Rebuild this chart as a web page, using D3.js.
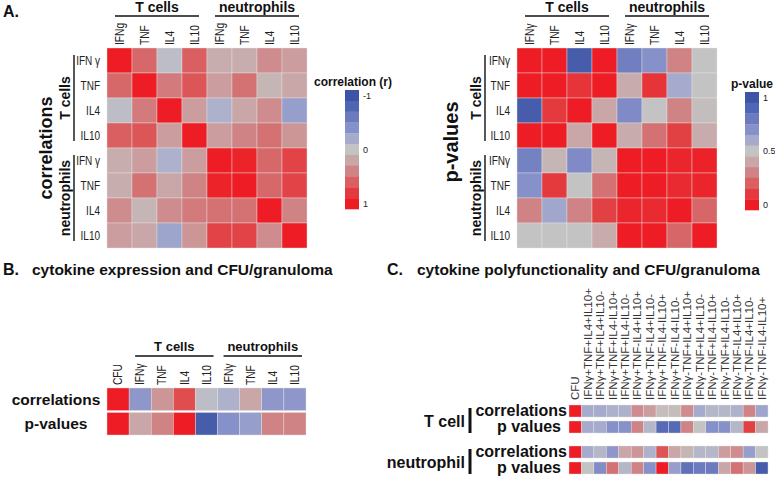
<!DOCTYPE html>
<html><head><meta charset="utf-8">
<script src="https://cdn.jsdelivr.net/npm/d3@7"></script>
<style>
body{margin:0;background:#fff;}
text{font-family:"Liberation Sans",Arial,Helvetica,sans-serif;}
</style></head>
<body><svg id="chart" width="775" height="480"></svg>
<script>
// ---------- DATA ----------
const corrRowLabels = ["IFN γ","TNF","IL4","IL10","IFN γ","TNF","IL4","IL10"];
const pRowLabels = ["IFNγ","TNF","IL4","IL10","IFNγ","TNF","IL4","IL10"];
const corrColLabels = ["IFNg","TNF","IL4","IL10","IFNg","TNF","IL4","IL10"];
const pColLabels = ["IFNγ","TNF","IL4","IL10","IFNγ","TNF","IL4","IL10"];
const groupLabels = ["T cells","neutrophils"];

const corrMatrix = [
  [1.00, 0.55,-0.05, 0.60, 0.15, 0.15, 0.35, 0.25],
  [0.55, 1.00, 0.45, 0.65, 0.25, 0.50, 0.10, 0.20],
  [-0.05,0.45, 1.00, 0.25,-0.15, 0.20, 0.35,-0.30],
  [0.60, 0.65, 0.25, 1.00, 0.25, 0.40, 0.50, 0.30],
  [0.15, 0.25,-0.15, 0.25, 1.00, 0.95, 0.55, 0.75],
  [0.15, 0.50, 0.20, 0.40, 0.95, 1.00, 0.55, 0.75],
  [0.35, 0.10, 0.35, 0.45, 0.50, 0.50, 1.00, 0.40],
  [0.25, 0.20,-0.25, 0.30, 0.75, 0.75, 0.35, 1.00]
];
const pMatrix = [
  [0.00, 0.00, 0.95, 0.00, 0.78, 0.70, 0.30, 0.50],
  [0.00, 0.00, 0.08, 0.00, 0.42, 0.08, 0.60, 0.50],
  [0.95, 0.10, 0.00, 0.40, 0.73, 0.50, 0.30, 0.48],
  [0.00, 0.00, 0.40, 0.00, 0.42, 0.25, 0.12, 0.42],
  [0.77, 0.45, 0.73, 0.45, 0.00, 0.00, 0.03, 0.02],
  [0.70, 0.10, 0.50, 0.25, 0.00, 0.00, 0.05, 0.03],
  [0.30, 0.62, 0.30, 0.12, 0.03, 0.05, 0.00, 0.22],
  [0.50, 0.50, 0.50, 0.42, 0.00, 0.00, 0.22, 0.00]
];

const bColumns = ["CFU","IFNγ","TNF","IL4","IL10","IFNγ","TNF","IL4","IL10"];
const bRowLabels = ["correlations","p-values"];
const bCorr = [1.00,-0.35, 0.30, 0.70,-0.05,-0.15, 0.20,-0.35,-0.35];
const bP    = [0.00, 0.40, 0.30, 0.00, 0.95, 0.70, 0.65, 0.30, 0.30];

const cColumns = ["CFU",
  "IFNγ+TNF+IL4+IL10+","IFNγ+TNF+IL4+IL10-","IFNγ+TNF+IL4-IL10+","IFNγ+TNF+IL4-IL10-",
  "IFNγ+TNF-IL4+IL10+","IFNγ+TNF-IL4+IL10-","IFNγ+TNF-IL4-IL10+","IFNγ+TNF-IL4-IL10-",
  "IFNγ-TNF+IL4+IL10+","IFNγ-TNF+IL4+IL10-","IFNγ-TNF+IL4-IL10+","IFNγ-TNF+IL4-IL10-",
  "IFNγ-TNF-IL4+IL10+","IFNγ-TNF-IL4+IL10-","IFNγ-TNF-IL4-IL10+"];
const cGroups = ["T cell","neutrophil"];
const cRowLabels = ["correlations","p values"];
const cTCorr = [1.00,-0.20,-0.20,-0.15,-0.15, 0.35, 0.25, 0.05, 0.05, 0.35,-0.20,-0.10,-0.10,-0.15, 0.40,-0.25];
const cTP    = [0.00, 0.60, 0.60, 0.70, 0.70, 0.30, 0.55, 0.88, 0.88, 0.30, 0.50, 0.70, 0.70, 0.55, 0.12, 0.40];
const cNCorr = [1.00,-0.20,-0.10,-0.35, 0.20, 0.30,-0.15, 0.65, 0.20, 0.10,-0.10,-0.10, 0.25, 0.35,-0.30, 0.00];
const cNP    = [0.00, 0.50, 0.72, 0.25, 0.55, 0.30, 0.70, 0.00, 0.65, 0.85, 0.80, 0.80, 0.40, 0.25, 0.35, 0.95];

const corrTicks = [-1, 0, 1];
const pTicks = [1, 0.5, 0];
// swatch colours from red (t=0) to blue (t=1)
const rampColors = ["#ee1c24","#e43a3d","#d95f61","#cf8385","#c9a6a7","#c3c3c3","#a6abcd","#8791c9","#6c7bbf","#5166b2","#3c53a6"];

// ---------- SCALES ----------
const ramp = d3.scaleLinear().domain(d3.range(11).map(i => i/10)).range(rampColors).clamp(true);
const corrColor = r => ramp((1 - r) / 2);
const pColor = p => ramp(p);

const svg = d3.select("#chart");
const idx = n => d3.range(n);

function styleColLabels(sel, size) {
  sel.select(".domain").remove();
  sel.selectAll("text").attr("transform", "rotate(-90) scale(0.85,1)").attr("x", 0).attr("y", 0)
    .attr("dy", "0.35em").attr("text-anchor", "start")
    .style("font-size", size + "px").attr("fill", "#222");
}

function drawMatrix(x0, x1, y0, y1, matrix, colorFn, colLabels, rowLabels) {
  const n = colLabels.length;
  const x = d3.scaleBand().domain(idx(n)).range([x0, x1]);
  const y = d3.scaleBand().domain(idx(rowLabels.length)).range([y0, y1]);
  const g = svg.append("g");
  matrix.forEach((row, i) => {
    g.selectAll(null).data(row).join("rect")
      .attr("x", (d, j) => x(j)).attr("y", y(i))
      .attr("width", x.bandwidth()).attr("height", y.bandwidth())
      .attr("fill", d => colorFn(d))
      .attr("stroke", "#e9e4e4").attr("stroke-width", 0.4);
  });
  const ax = svg.append("g").attr("transform", `translate(0,${y0 - 3})`)
    .call(d3.axisTop(x).tickSize(0).tickFormat(i => colLabels[i]));
  styleColLabels(ax, 12);
  const ay = svg.append("g").attr("transform", `translate(${x0 - 7},0)`)
    .call(d3.axisLeft(y).tickSize(0).tickPadding(0).tickFormat(i => rowLabels[i]));
  ay.select(".domain").remove();
  ay.selectAll("text").attr("transform", "scale(0.8,1)").style("font-size", "12.5px").attr("fill", "#222");
  return {x, y};
}

function line(x1, y1, x2, y2, w) {
  svg.append("line").attr("x1", x1).attr("y1", y1).attr("x2", x2).attr("y2", y2)
    .attr("stroke", "#111").attr("stroke-width", w || 1.4);
}
function text(t, x, y, size, opts) {
  opts = opts || {};
  const el = svg.append("text").attr("x", x).attr("y", y).text(t)
    .style("font-size", size + "px").style("font-weight", opts.bold ? "bold" : "normal")
    .attr("fill", opts.fill || "#111").attr("text-anchor", opts.anchor || "start");
  if (opts.rotate) el.attr("transform", `rotate(-90,${x},${y})`);
  return el;
}

function groupHeaders(x, yText, yLine, size, inset) {
  [[0, 3], [4, 7]].forEach((r, k) => {
    const a = x(r[0]) + inset, b = x(r[1]) + x.bandwidth() - inset;
    line(a, yLine, b, yLine);
    text(groupLabels[k], (a + b) / 2, yText, size, {bold: true, anchor: "middle"});
  });
}
function rowGroups(y, xLine, xText, inset) {
  [[0, 3], [4, 7]].forEach((r, k) => {
    const a = y(r[0]) + inset, b = y(r[1]) + y.bandwidth() - inset;
    line(xLine, a, xLine, b);
    text(groupLabels[k], xText, (a + b) / 2, 14, {bold: true, anchor: "middle", rotate: true});
  });
}

function legend(x0, y0, y1, ticks, tickLabels, title, titleX, titleAnchor) {
  const s = d3.scaleBand().domain(idx(11)).range([y0, y1]);
  svg.append("g").selectAll("rect").data(rampColors.slice().reverse()).join("rect")
    .attr("x", x0).attr("y", (d, i) => s(i)).attr("width", 14).attr("height", s.bandwidth() + 0.3)
    .attr("fill", d => d);
  const ly = d3.scaleLinear().domain([ticks[0], ticks[2]])
    .range([y0 + s.bandwidth() / 2, y1 - s.bandwidth() / 2]);
  const ag = svg.append("g").attr("transform", `translate(${x0 + 14},0)`)
    .call(d3.axisRight(ly).tickValues(ticks).tickSize(0).tickPadding(4).tickFormat((d, i) => tickLabels[i]));
  ag.select(".domain").remove();
  ag.selectAll("text").style("font-size", "9px").attr("fill", "#222");
  text(title, titleX, y0 - 4, 12, {bold: true, anchor: titleAnchor});
}

// ---------- PANEL A ----------
text("A.", 3, 17, 16, {bold: true});
const A1 = drawMatrix(107, 307, 48, 248, corrMatrix, corrColor, corrColLabels, corrRowLabels);
groupHeaders(A1.x, 12, 16, 14, 8);
rowGroups(A1.y, 74, 70, 7);
text("correlations", 52, 148, 18, {bold: true, anchor: "middle", rotate: true});
legend(345, 90, 209, corrTicks, corrTicks.map(String), "correlation (r)", 314, "start");

const A2 = drawMatrix(517, 717, 48, 248, pMatrix, pColor, pColLabels, pRowLabels);
groupHeaders(A2.x, 12, 16, 14, 8);
rowGroups(A2.y, 485, 481, 7);
text("p-values", 458, 142, 20, {bold: true, anchor: "middle", rotate: true});
legend(745, 92, 210, pTicks, pTicks.map(String), "p-value", 752, "middle");

// ---------- PANEL B ----------
text("B.", 3, 275, 16, {bold: true});
text("cytokine expression and CFU/granuloma", 32, 275, 15.5, {bold: true});
{
  const x = d3.scaleBand().domain(idx(bColumns.length)).range([107, 306]);
  const y = d3.scaleBand().domain(idx(2)).range([388, 435]).paddingInner(0.08);
  const rows = [bCorr.map(corrColor), bP.map(pColor)];
  rows.forEach((row, i) => {
    svg.append("g").selectAll("rect").data(row).join("rect")
      .attr("x", (d, j) => x(j)).attr("y", y(i)).attr("width", x.bandwidth()).attr("height", y.bandwidth())
      .attr("fill", d => d).attr("stroke", "#e6e2e2").attr("stroke-width", 0.4);
    text(bRowLabels[i], 56, y(i) + y.bandwidth() / 2 + 5.5, 15.5, {bold: true, anchor: "middle"});
  });
  const ax = svg.append("g").attr("transform", "translate(0,385)")
    .call(d3.axisTop(x).tickSize(0).tickFormat(i => bColumns[i]));
  styleColLabels(ax, 12);
  [[1, 4], [5, 8]].forEach((r, k) => {
    const a = x(r[0]) + 6, b = x(r[1]) + x.bandwidth() - 4;
    line(a, 356, b, 356);
    text(groupLabels[k], (a + b) / 2, 351, 13, {bold: true, anchor: "middle"});
  });
}

// ---------- PANEL C ----------
text("C.", 387, 275, 16, {bold: true});
text("cytokine polyfunctionality and CFU/granuloma", 417, 275, 15.5, {bold: true});
{
  const x = d3.scaleBand().domain(idx(cColumns.length)).range([569, 768]);
  const groupsData = [[cTCorr, cTP], [cNCorr, cNP]];
  const groupTops = [405, 446];
  groupsData.forEach((gd, k) => {
    const y = d3.scaleBand().domain(idx(2)).range([groupTops[k], groupTops[k] + 28]).paddingInner(0.25);
    [gd[0].map(corrColor), gd[1].map(pColor)].forEach((row, i) => {
      svg.append("g").selectAll("rect").data(row).join("rect")
        .attr("x", (d, j) => x(j)).attr("y", y(i)).attr("width", x.bandwidth()).attr("height", y.bandwidth())
        .attr("fill", d => d).attr("stroke", "#e6e2e2").attr("stroke-width", 0.4);
    });
    text(cRowLabels[0], 567, y(0) + y.bandwidth() - 1, 16, {bold: true, anchor: "end"});
    text(cRowLabels[1], 561, y(1) + y.bandwidth() - 1, 16, {bold: true, anchor: "end"});
    line(470, groupTops[k] + 3, 470, groupTops[k] + 28, 3);
    text(cGroups[k], 465, groupTops[k] + 22, 16, {bold: true, anchor: "end"});
  });
  const ax = svg.append("g").attr("transform", "translate(0,400)")
    .call(d3.axisTop(x).tickSize(0).tickFormat(i => cColumns[i]));
  ax.select(".domain").remove();
  ax.selectAll("text").attr("transform", "rotate(-90)").attr("x", 0).attr("y", 0)
    .attr("dy", "0.35em").attr("text-anchor", "start").style("font-size", "11.5px").attr("fill", "#333");
}
</script></body></html>
